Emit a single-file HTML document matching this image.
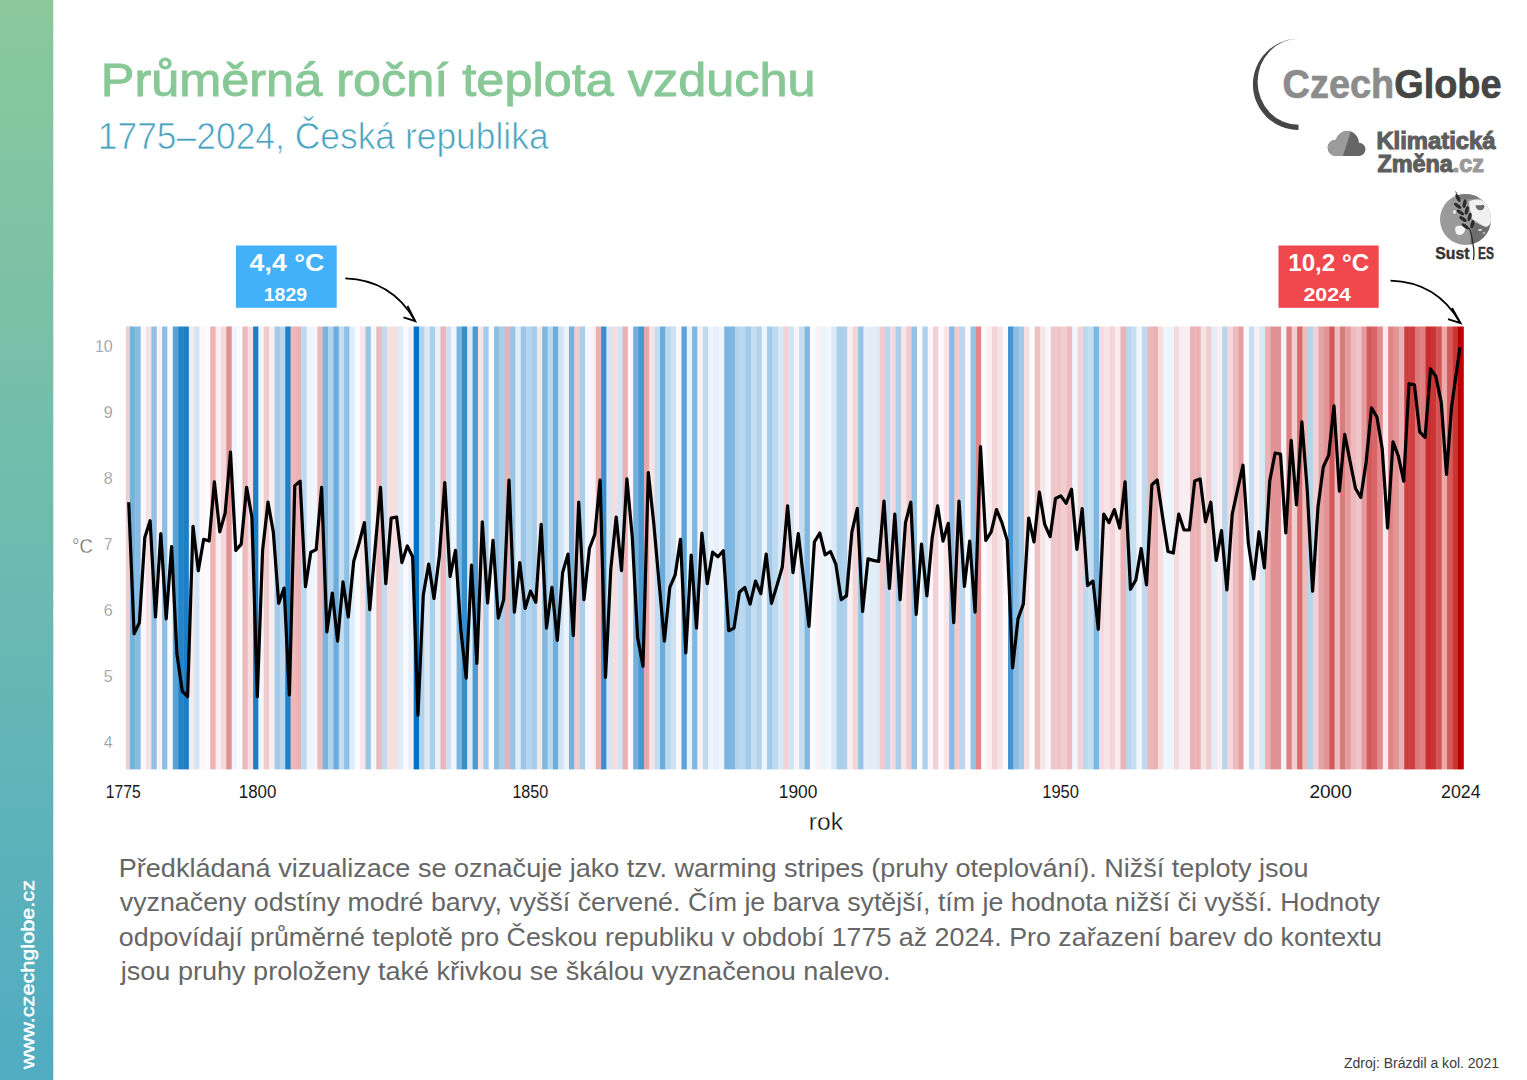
<!DOCTYPE html>
<html><head><meta charset="utf-8"><style>
html,body{margin:0;padding:0;background:#fff;}
body{width:1527px;height:1080px;overflow:hidden;position:relative;font-family:'Liberation Sans',sans-serif;}
svg{position:absolute;left:0;top:0;}
</style></head><body>
<svg width="1527" height="1080" viewBox="0 0 1527 1080" style="font-family:'Liberation Sans',sans-serif">
<defs>
<linearGradient id="bar" x1="0" y1="0" x2="0" y2="1">
<stop offset="0" stop-color="#8bc99c"/><stop offset="1" stop-color="#50acc3"/>
</linearGradient>
</defs>
<rect x="0" y="0" width="53.3" height="1080" fill="url(#bar)"/>
<text transform="translate(34.2,1069) rotate(-90)" x="0" y="0" font-size="19" fill="#ffffff" stroke="#ffffff" stroke-width="0.5" textLength="189" lengthAdjust="spacingAndGlyphs">www.czechglobe.cz</text>

<!-- CzechGlobe logo arc -->
<path d="M1298.5,38.8 A45.6,45.6 0 0 0 1298.5,130 L1298.5,124.8 A40.9,43 0 0 1 1298.5,38.8 Z" fill="#464646"/>

<!-- Klimaticka zmena cloud -->
<defs><clipPath id="cl"><circle cx="1335.8" cy="147.8" r="8.1"/><circle cx="1347.2" cy="142.8" r="11.7"/><circle cx="1358.9" cy="149.3" r="6.6"/><rect x="1335.8" y="145" width="23.1" height="10.9"/></clipPath></defs>
<g clip-path="url(#cl)"><rect x="1320" y="125" width="50" height="35" fill="#666666"/><polygon points="1320,125 1352.7,125 1341.7,160 1320,160" fill="#9b9b9b"/></g>

<!-- SustES globe -->
<defs><clipPath id="gl"><circle cx="1465.5" cy="219.4" r="25.5"/></clipPath></defs>
<g clip-path="url(#gl)">
<rect x="1438" y="192" width="56" height="56" fill="#9a9a9a"/>
<path d="M1456,194 L1480,194 L1478,199 C1470,199 1462,200 1456,199 Z" fill="#7a7a7a"/>
<path d="M1469,201.5 C1474,199 1480,198 1486,203 C1490,208 1492,215 1491,221 C1490,225 1488,227 1486,227 C1483,226 1480,224 1477,222 C1474,221 1472,220 1471,214 C1470,209 1469,205 1469,201.5 Z" fill="#f0f0f0"/>
<path d="M1475.5,205.5 C1478,204.5 1480,206 1482,205 C1484,204 1485,206 1484,208 C1483,210 1481,210.5 1479,210 C1477,209.5 1476,208 1475.5,205.5 Z" fill="#6a6a6a"/>
<path d="M1472,222 C1476,222 1481,226 1486,227 C1489,226 1491,223 1492,222 L1492,248 L1470,248 Z" fill="#6e6e6e"/>
<ellipse cx="1480" cy="230" rx="2" ry="1" fill="#dcdcdc"/>
<ellipse cx="1484" cy="233" rx="1.5" ry="0.8" fill="#dcdcdc"/>
<path d="M1455.5,227 C1458,225 1463,225.5 1465,227.5 C1466,230 1464,233 1462,234.5 C1460,235.5 1457,235 1456,233 C1455,231 1455,229 1455.5,227 Z" fill="#f4f4f4"/>
<ellipse cx="1454.5" cy="212" rx="1.4" ry="2" fill="#f0f0f0"/>
</g>
<g fill="#2b2b2b">
<ellipse cx="1458" cy="198" rx="1.8" ry="4.4" transform="rotate(-25 1458 198)"/>
<ellipse cx="1457.7" cy="205.8" rx="1.7" ry="4.3" transform="rotate(-55 1457.7 205.8)"/>
<ellipse cx="1460.4" cy="212.4" rx="1.7" ry="4.3" transform="rotate(-55 1460.4 212.4)"/>
<ellipse cx="1463" cy="219" rx="1.7" ry="4.3" transform="rotate(-55 1463 219)"/>
<ellipse cx="1465.4" cy="226.3" rx="1.7" ry="4.3" transform="rotate(-55 1465.4 226.3)"/>
<ellipse cx="1464.6" cy="203.6" rx="1.8" ry="4.4" transform="rotate(10 1464.6 203.6)"/>
<ellipse cx="1466.8" cy="210.5" rx="1.8" ry="4.3" transform="rotate(15 1466.8 210.5)"/>
<ellipse cx="1469.6" cy="216.9" rx="1.8" ry="4.3" transform="rotate(15 1469.6 216.9)"/>
<ellipse cx="1472.4" cy="224.1" rx="1.8" ry="4.3" transform="rotate(15 1472.4 224.1)"/>
</g>
<path d="M1457,194 L1455.5,191.5" stroke="#2b2b2b" stroke-width="0.8"/>
<path d="M1469.3,228 C1471,232 1472.5,240 1473.6,248 C1474.2,252 1474,256 1473.4,260" stroke="#2b2b2b" stroke-width="1.3" fill="none"/>

<!-- annotation boxes -->
<rect x="235.9" y="245.5" width="100.8" height="62.3" fill="#43b0fa"/>
<path d="M345.3,278.4 Q392,280 414.8,320.6" stroke="#000" stroke-width="1.8" fill="none"/>
<path d="M407.5,306 L415.3,321.2 L403.5,317.3" stroke="#000" stroke-width="1.8" fill="none"/>
<rect x="1278.5" y="245.5" width="100.2" height="62.3" fill="#f0484c"/>
<path d="M1390.5,280.6 Q1437,282 1460,322.6" stroke="#000" stroke-width="1.8" fill="none"/>
<path d="M1452,308 L1460.6,323.2 L1448,319.2" stroke="#000" stroke-width="1.8" fill="none"/>

<!-- stripes -->
<g>
<rect x="125.80" y="326.5" width="4.50" height="442.9" fill="#f0ccce"/><rect x="129.95" y="326.5" width="5.70" height="442.9" fill="#77b2de"/><rect x="135.31" y="326.5" width="5.70" height="442.9" fill="#87bbe2"/><rect x="140.66" y="326.5" width="5.70" height="442.9" fill="#fbf6f9"/><rect x="146.02" y="326.5" width="5.70" height="442.9" fill="#f6e2e5"/><rect x="151.37" y="326.5" width="5.70" height="442.9" fill="#8fc0e4"/><rect x="156.72" y="326.5" width="5.70" height="442.9" fill="#faf2f4"/><rect x="162.08" y="326.5" width="5.70" height="442.9" fill="#8cbee3"/><rect x="167.43" y="326.5" width="5.70" height="442.9" fill="#f6f9fd"/><rect x="172.79" y="326.5" width="5.70" height="442.9" fill="#59a2d6"/><rect x="178.14" y="326.5" width="5.70" height="442.9" fill="#2384c9"/><rect x="183.49" y="326.5" width="5.70" height="442.9" fill="#1b7fc7"/><rect x="188.85" y="326.5" width="5.70" height="442.9" fill="#f7e9eb"/><rect x="194.20" y="326.5" width="5.70" height="442.9" fill="#d3e5f5"/><rect x="199.56" y="326.5" width="5.70" height="442.9" fill="#fbf8fb"/><rect x="204.91" y="326.5" width="5.70" height="442.9" fill="#fcfafd"/><rect x="210.26" y="326.5" width="5.70" height="442.9" fill="#ebb3b5"/><rect x="215.62" y="326.5" width="5.70" height="442.9" fill="#f9eff2"/><rect x="220.97" y="326.5" width="5.70" height="442.9" fill="#f4d9dc"/><rect x="226.33" y="326.5" width="5.70" height="442.9" fill="#e29091"/><rect x="231.68" y="326.5" width="5.70" height="442.9" fill="#f0f6fc"/><rect x="237.03" y="326.5" width="5.70" height="442.9" fill="#fafbfe"/><rect x="242.39" y="326.5" width="5.70" height="442.9" fill="#ecbabc"/><rect x="247.74" y="326.5" width="5.70" height="442.9" fill="#f5dde0"/><rect x="253.10" y="326.5" width="5.70" height="442.9" fill="#1b7fc7"/><rect x="258.45" y="326.5" width="5.70" height="442.9" fill="#f0f6fc"/><rect x="263.80" y="326.5" width="5.70" height="442.9" fill="#f0ccce"/><rect x="269.16" y="326.5" width="5.70" height="442.9" fill="#f9eff2"/><rect x="274.51" y="326.5" width="5.70" height="442.9" fill="#a3cbe9"/><rect x="279.87" y="326.5" width="5.70" height="442.9" fill="#b9d7ee"/><rect x="285.22" y="326.5" width="5.70" height="442.9" fill="#1e81c7"/><rect x="290.57" y="326.5" width="5.70" height="442.9" fill="#ecb8ba"/><rect x="295.93" y="326.5" width="5.70" height="442.9" fill="#eab2b4"/><rect x="301.28" y="326.5" width="5.70" height="442.9" fill="#bbd8ef"/><rect x="306.64" y="326.5" width="5.70" height="442.9" fill="#eef4fb"/><rect x="311.99" y="326.5" width="5.70" height="442.9" fill="#f1f6fc"/><rect x="317.34" y="326.5" width="5.70" height="442.9" fill="#ecbabc"/><rect x="322.70" y="326.5" width="5.70" height="442.9" fill="#7ab4de"/><rect x="328.05" y="326.5" width="5.70" height="442.9" fill="#b2d3ed"/><rect x="333.41" y="326.5" width="5.70" height="442.9" fill="#6cacdb"/><rect x="338.76" y="326.5" width="5.70" height="442.9" fill="#c2dcf1"/><rect x="344.11" y="326.5" width="5.70" height="442.9" fill="#8fc0e4"/><rect x="349.47" y="326.5" width="5.70" height="442.9" fill="#e0edf8"/><rect x="354.82" y="326.5" width="5.70" height="442.9" fill="#fbfcff"/><rect x="360.18" y="326.5" width="5.70" height="442.9" fill="#f6e4e7"/><rect x="365.53" y="326.5" width="5.70" height="442.9" fill="#9ac6e6"/><rect x="370.88" y="326.5" width="5.70" height="442.9" fill="#f3f7fd"/><rect x="376.24" y="326.5" width="5.70" height="442.9" fill="#ecbabc"/><rect x="381.59" y="326.5" width="5.70" height="442.9" fill="#c0dbf0"/><rect x="386.95" y="326.5" width="5.70" height="442.9" fill="#f5dfe1"/><rect x="392.30" y="326.5" width="5.70" height="442.9" fill="#f5dde0"/><rect x="397.65" y="326.5" width="5.70" height="442.9" fill="#dfecf8"/><rect x="403.01" y="326.5" width="5.70" height="442.9" fill="#f7f9fe"/><rect x="408.36" y="326.5" width="5.70" height="442.9" fill="#e7f0fa"/><rect x="413.72" y="326.5" width="5.70" height="442.9" fill="#0070c0"/><rect x="419.07" y="326.5" width="5.70" height="442.9" fill="#b0d2ec"/><rect x="424.42" y="326.5" width="5.70" height="442.9" fill="#dceaf7"/><rect x="429.78" y="326.5" width="5.70" height="442.9" fill="#aacfeb"/><rect x="435.13" y="326.5" width="5.70" height="442.9" fill="#e8f1fa"/><rect x="440.49" y="326.5" width="5.70" height="442.9" fill="#ebb4b6"/><rect x="445.84" y="326.5" width="5.70" height="442.9" fill="#cbe1f3"/><rect x="451.19" y="326.5" width="5.70" height="442.9" fill="#f0f6fc"/><rect x="456.55" y="326.5" width="5.70" height="442.9" fill="#7cb5df"/><rect x="461.90" y="326.5" width="5.70" height="442.9" fill="#368ece"/><rect x="467.26" y="326.5" width="5.70" height="442.9" fill="#dbeaf7"/><rect x="472.61" y="326.5" width="5.70" height="442.9" fill="#4c9ad3"/><rect x="477.96" y="326.5" width="5.70" height="442.9" fill="#f6e3e6"/><rect x="483.32" y="326.5" width="5.70" height="442.9" fill="#a4cbe9"/><rect x="488.67" y="326.5" width="5.70" height="442.9" fill="#fbfafd"/><rect x="494.03" y="326.5" width="5.70" height="442.9" fill="#8ebfe3"/><rect x="499.38" y="326.5" width="5.70" height="442.9" fill="#a9ceea"/><rect x="504.73" y="326.5" width="5.70" height="442.9" fill="#eab1b3"/><rect x="510.09" y="326.5" width="5.70" height="442.9" fill="#96c3e6"/><rect x="515.44" y="326.5" width="5.70" height="442.9" fill="#dfecf8"/><rect x="520.80" y="326.5" width="5.70" height="442.9" fill="#9cc6e7"/><rect x="526.15" y="326.5" width="5.70" height="442.9" fill="#b5d5ed"/><rect x="531.50" y="326.5" width="5.70" height="442.9" fill="#a5cce9"/><rect x="536.86" y="326.5" width="5.70" height="442.9" fill="#f7e6e9"/><rect x="542.21" y="326.5" width="5.70" height="442.9" fill="#7fb7e0"/><rect x="547.57" y="326.5" width="5.70" height="442.9" fill="#bad8ef"/><rect x="552.92" y="326.5" width="5.70" height="442.9" fill="#6daddb"/><rect x="558.27" y="326.5" width="5.70" height="442.9" fill="#d0e4f4"/><rect x="563.63" y="326.5" width="5.70" height="442.9" fill="#ebf3fb"/><rect x="568.98" y="326.5" width="5.70" height="442.9" fill="#74b1dd"/><rect x="574.34" y="326.5" width="5.70" height="442.9" fill="#f0ccce"/><rect x="579.69" y="326.5" width="5.70" height="442.9" fill="#a9ceea"/><rect x="585.04" y="326.5" width="5.70" height="442.9" fill="#f3f7fd"/><rect x="590.40" y="326.5" width="5.70" height="442.9" fill="#faf2f5"/><rect x="595.75" y="326.5" width="5.70" height="442.9" fill="#eab1b3"/><rect x="601.11" y="326.5" width="5.70" height="442.9" fill="#378fce"/><rect x="606.46" y="326.5" width="5.70" height="442.9" fill="#d5e7f5"/><rect x="611.81" y="326.5" width="5.70" height="442.9" fill="#f5dde0"/><rect x="617.17" y="326.5" width="5.70" height="442.9" fill="#d3e5f5"/><rect x="622.52" y="326.5" width="5.70" height="442.9" fill="#eab0b2"/><rect x="627.88" y="326.5" width="5.70" height="442.9" fill="#fbf6f9"/><rect x="633.23" y="326.5" width="5.70" height="442.9" fill="#71afdc"/><rect x="638.58" y="326.5" width="5.70" height="442.9" fill="#4798d2"/><rect x="643.94" y="326.5" width="5.70" height="442.9" fill="#e8a8aa"/><rect x="649.29" y="326.5" width="5.70" height="442.9" fill="#f6e4e7"/><rect x="654.65" y="326.5" width="5.70" height="442.9" fill="#c2dcf1"/><rect x="660.00" y="326.5" width="5.70" height="442.9" fill="#6cacdb"/><rect x="665.35" y="326.5" width="5.70" height="442.9" fill="#bad8ef"/><rect x="670.71" y="326.5" width="5.70" height="442.9" fill="#cce1f3"/><rect x="676.06" y="326.5" width="5.70" height="442.9" fill="#fbf8fb"/><rect x="681.42" y="326.5" width="5.70" height="442.9" fill="#5ba2d7"/><rect x="686.77" y="326.5" width="5.70" height="442.9" fill="#e9f2fa"/><rect x="692.12" y="326.5" width="5.70" height="442.9" fill="#7fb7e0"/><rect x="697.48" y="326.5" width="5.70" height="442.9" fill="#f9f1f4"/><rect x="702.83" y="326.5" width="5.70" height="442.9" fill="#c0dbf0"/><rect x="708.19" y="326.5" width="5.70" height="442.9" fill="#eef4fb"/><rect x="713.54" y="326.5" width="5.70" height="442.9" fill="#e7f0fa"/><rect x="718.89" y="326.5" width="5.70" height="442.9" fill="#f0f5fc"/><rect x="724.25" y="326.5" width="5.70" height="442.9" fill="#7bb4df"/><rect x="729.60" y="326.5" width="5.70" height="442.9" fill="#7fb7e0"/><rect x="734.96" y="326.5" width="5.70" height="442.9" fill="#b3d4ed"/><rect x="740.31" y="326.5" width="5.70" height="442.9" fill="#bad8ef"/><rect x="745.66" y="326.5" width="5.70" height="442.9" fill="#a2cae9"/><rect x="751.02" y="326.5" width="5.70" height="442.9" fill="#c4ddf1"/><rect x="756.37" y="326.5" width="5.70" height="442.9" fill="#b1d2ec"/><rect x="761.73" y="326.5" width="5.70" height="442.9" fill="#ebf3fb"/><rect x="767.08" y="326.5" width="5.70" height="442.9" fill="#a3cbe9"/><rect x="772.43" y="326.5" width="5.70" height="442.9" fill="#bdd9ef"/><rect x="777.79" y="326.5" width="5.70" height="442.9" fill="#d8e8f6"/><rect x="783.14" y="326.5" width="5.70" height="442.9" fill="#f2d0d3"/><rect x="788.50" y="326.5" width="5.70" height="442.9" fill="#d0e4f4"/><rect x="793.85" y="326.5" width="5.70" height="442.9" fill="#faf2f4"/><rect x="799.20" y="326.5" width="5.70" height="442.9" fill="#c5def1"/><rect x="804.56" y="326.5" width="5.70" height="442.9" fill="#82b8e0"/><rect x="809.91" y="326.5" width="5.70" height="442.9" fill="#fcfbfe"/><rect x="815.27" y="326.5" width="5.70" height="442.9" fill="#f9f1f4"/><rect x="820.62" y="326.5" width="5.70" height="442.9" fill="#eaf2fa"/><rect x="825.97" y="326.5" width="5.70" height="442.9" fill="#eff5fc"/><rect x="831.33" y="326.5" width="5.70" height="442.9" fill="#dceaf7"/><rect x="836.68" y="326.5" width="5.70" height="442.9" fill="#a9ceea"/><rect x="842.04" y="326.5" width="5.70" height="442.9" fill="#aed1eb"/><rect x="847.39" y="326.5" width="5.70" height="442.9" fill="#f9eff2"/><rect x="852.74" y="326.5" width="5.70" height="442.9" fill="#f2d3d6"/><rect x="858.10" y="326.5" width="5.70" height="442.9" fill="#97c4e6"/><rect x="863.45" y="326.5" width="5.70" height="442.9" fill="#e4eff9"/><rect x="868.81" y="326.5" width="5.70" height="442.9" fill="#e2edf8"/><rect x="874.16" y="326.5" width="5.70" height="442.9" fill="#e0edf8"/><rect x="879.51" y="326.5" width="5.70" height="442.9" fill="#f0cacd"/><rect x="884.87" y="326.5" width="5.70" height="442.9" fill="#b9d7ee"/><rect x="890.22" y="326.5" width="5.70" height="442.9" fill="#f4dadd"/><rect x="895.58" y="326.5" width="5.70" height="442.9" fill="#a9ceea"/><rect x="900.93" y="326.5" width="5.70" height="442.9" fill="#f6e4e7"/><rect x="906.28" y="326.5" width="5.70" height="442.9" fill="#f0ccce"/><rect x="911.64" y="326.5" width="5.70" height="442.9" fill="#93c2e5"/><rect x="916.99" y="326.5" width="5.70" height="442.9" fill="#fafbfe"/><rect x="922.35" y="326.5" width="5.70" height="442.9" fill="#aed1eb"/><rect x="927.70" y="326.5" width="5.70" height="442.9" fill="#fbf6f9"/><rect x="933.05" y="326.5" width="5.70" height="442.9" fill="#f2d0d3"/><rect x="938.41" y="326.5" width="5.70" height="442.9" fill="#fcfafd"/><rect x="943.76" y="326.5" width="5.70" height="442.9" fill="#f7e5e8"/><rect x="949.12" y="326.5" width="5.70" height="442.9" fill="#87bbe2"/><rect x="954.47" y="326.5" width="5.70" height="442.9" fill="#f0cacd"/><rect x="959.82" y="326.5" width="5.70" height="442.9" fill="#bcd8ef"/><rect x="965.18" y="326.5" width="5.70" height="442.9" fill="#fcfafd"/><rect x="970.53" y="326.5" width="5.70" height="442.9" fill="#96c3e6"/><rect x="975.89" y="326.5" width="5.70" height="442.9" fill="#e1898a"/><rect x="981.24" y="326.5" width="5.70" height="442.9" fill="#fbfafd"/><rect x="986.59" y="326.5" width="5.70" height="442.9" fill="#f9eff2"/><rect x="991.95" y="326.5" width="5.70" height="442.9" fill="#f3d5d7"/><rect x="997.30" y="326.5" width="5.70" height="442.9" fill="#f6e4e7"/><rect x="1002.66" y="326.5" width="5.70" height="442.9" fill="#fbfafd"/><rect x="1008.01" y="326.5" width="5.70" height="442.9" fill="#4596d1"/><rect x="1013.36" y="326.5" width="5.70" height="442.9" fill="#8cbee3"/><rect x="1018.72" y="326.5" width="5.70" height="442.9" fill="#a2cae9"/><rect x="1024.07" y="326.5" width="5.70" height="442.9" fill="#f5dfe1"/><rect x="1029.43" y="326.5" width="5.70" height="442.9" fill="#fcfbfe"/><rect x="1034.78" y="326.5" width="5.70" height="442.9" fill="#eec0c2"/><rect x="1040.13" y="326.5" width="5.70" height="442.9" fill="#f7e6e9"/><rect x="1045.49" y="326.5" width="5.70" height="442.9" fill="#faf5f8"/><rect x="1050.84" y="326.5" width="5.70" height="442.9" fill="#efc7ca"/><rect x="1056.20" y="326.5" width="5.70" height="442.9" fill="#efc4c6"/><rect x="1061.55" y="326.5" width="5.70" height="442.9" fill="#f1cdcf"/><rect x="1066.90" y="326.5" width="5.70" height="442.9" fill="#edbcbe"/><rect x="1072.26" y="326.5" width="5.70" height="442.9" fill="#f2f6fd"/><rect x="1077.61" y="326.5" width="5.70" height="442.9" fill="#f2d3d6"/><rect x="1082.97" y="326.5" width="5.70" height="442.9" fill="#bdd9ef"/><rect x="1088.32" y="326.5" width="5.70" height="442.9" fill="#c4ddf1"/><rect x="1093.67" y="326.5" width="5.70" height="442.9" fill="#7db6df"/><rect x="1099.03" y="326.5" width="5.70" height="442.9" fill="#f4dadd"/><rect x="1104.38" y="326.5" width="5.70" height="442.9" fill="#f6e4e7"/><rect x="1109.74" y="326.5" width="5.70" height="442.9" fill="#f3d5d7"/><rect x="1115.09" y="326.5" width="5.70" height="442.9" fill="#f8ebee"/><rect x="1120.44" y="326.5" width="5.70" height="442.9" fill="#ebb3b5"/><rect x="1125.80" y="326.5" width="5.70" height="442.9" fill="#b8d6ee"/><rect x="1131.15" y="326.5" width="5.70" height="442.9" fill="#c5def1"/><rect x="1136.51" y="326.5" width="5.70" height="442.9" fill="#f3f7fd"/><rect x="1141.86" y="326.5" width="5.70" height="442.9" fill="#bedaf0"/><rect x="1147.21" y="326.5" width="5.70" height="442.9" fill="#ecb7b9"/><rect x="1152.57" y="326.5" width="5.70" height="442.9" fill="#eab1b3"/><rect x="1157.92" y="326.5" width="5.70" height="442.9" fill="#f5dde0"/><rect x="1163.28" y="326.5" width="5.70" height="442.9" fill="#eff5fc"/><rect x="1168.63" y="326.5" width="5.70" height="442.9" fill="#edf3fb"/><rect x="1173.98" y="326.5" width="5.70" height="442.9" fill="#f4dadd"/><rect x="1179.34" y="326.5" width="5.70" height="442.9" fill="#f8edf0"/><rect x="1184.69" y="326.5" width="5.70" height="442.9" fill="#f8edf0"/><rect x="1190.05" y="326.5" width="5.70" height="442.9" fill="#eab2b4"/><rect x="1195.40" y="326.5" width="5.70" height="442.9" fill="#eab0b2"/><rect x="1200.75" y="326.5" width="5.70" height="442.9" fill="#f6e3e6"/><rect x="1206.11" y="326.5" width="5.70" height="442.9" fill="#f0ccce"/><rect x="1211.46" y="326.5" width="5.70" height="442.9" fill="#e2edf8"/><rect x="1216.82" y="326.5" width="5.70" height="442.9" fill="#f9eef1"/><rect x="1222.17" y="326.5" width="5.70" height="442.9" fill="#b7d5ee"/><rect x="1227.52" y="326.5" width="5.70" height="442.9" fill="#f4dadd"/><rect x="1232.88" y="326.5" width="5.70" height="442.9" fill="#edbcbe"/><rect x="1238.23" y="326.5" width="5.70" height="442.9" fill="#e69fa1"/><rect x="1243.59" y="326.5" width="5.70" height="442.9" fill="#fbfcff"/><rect x="1248.94" y="326.5" width="5.70" height="442.9" fill="#c7def2"/><rect x="1254.29" y="326.5" width="5.70" height="442.9" fill="#f9eff2"/><rect x="1259.65" y="326.5" width="5.70" height="442.9" fill="#d7e7f6"/><rect x="1265.00" y="326.5" width="5.70" height="442.9" fill="#eab2b4"/><rect x="1270.36" y="326.5" width="5.70" height="442.9" fill="#e29092"/><rect x="1275.71" y="326.5" width="5.70" height="442.9" fill="#e39293"/><rect x="1281.06" y="326.5" width="5.70" height="442.9" fill="#f9f1f4"/><rect x="1286.42" y="326.5" width="5.70" height="442.9" fill="#df8183"/><rect x="1291.77" y="326.5" width="5.70" height="442.9" fill="#f1cfd1"/><rect x="1297.13" y="326.5" width="5.70" height="442.9" fill="#d96b6c"/><rect x="1302.48" y="326.5" width="5.70" height="442.9" fill="#edbcbe"/><rect x="1307.83" y="326.5" width="5.70" height="442.9" fill="#b5d5ed"/><rect x="1313.19" y="326.5" width="5.70" height="442.9" fill="#f2d1d4"/><rect x="1318.54" y="326.5" width="5.70" height="442.9" fill="#e6a1a3"/><rect x="1323.90" y="326.5" width="5.70" height="442.9" fill="#e39395"/><rect x="1329.25" y="326.5" width="5.70" height="442.9" fill="#d55859"/><rect x="1334.60" y="326.5" width="5.70" height="442.9" fill="#edbec1"/><rect x="1339.96" y="326.5" width="5.70" height="442.9" fill="#dd7a7c"/><rect x="1345.31" y="326.5" width="5.70" height="442.9" fill="#e59b9d"/><rect x="1350.67" y="326.5" width="5.70" height="442.9" fill="#edbbbd"/><rect x="1356.02" y="326.5" width="5.70" height="442.9" fill="#efc6c8"/><rect x="1361.37" y="326.5" width="5.70" height="442.9" fill="#e59b9d"/><rect x="1366.73" y="326.5" width="5.70" height="442.9" fill="#d55a5b"/><rect x="1372.08" y="326.5" width="5.70" height="442.9" fill="#d86566"/><rect x="1377.44" y="326.5" width="5.70" height="442.9" fill="#e18b8d"/><rect x="1382.79" y="326.5" width="5.70" height="442.9" fill="#f8ebee"/><rect x="1388.14" y="326.5" width="5.70" height="442.9" fill="#df8385"/><rect x="1393.50" y="326.5" width="5.70" height="442.9" fill="#e39496"/><rect x="1398.85" y="326.5" width="5.70" height="442.9" fill="#eab2b4"/><rect x="1404.21" y="326.5" width="5.70" height="442.9" fill="#cf3d3e"/><rect x="1409.56" y="326.5" width="5.70" height="442.9" fill="#cf3e3f"/><rect x="1414.91" y="326.5" width="5.70" height="442.9" fill="#dc7778"/><rect x="1420.27" y="326.5" width="5.70" height="442.9" fill="#de7e7f"/><rect x="1425.62" y="326.5" width="5.70" height="442.9" fill="#ca2b2c"/><rect x="1430.98" y="326.5" width="5.70" height="442.9" fill="#cc3435"/><rect x="1436.33" y="326.5" width="5.70" height="442.9" fill="#d45354"/><rect x="1441.68" y="326.5" width="5.70" height="442.9" fill="#e9aaac"/><rect x="1447.04" y="326.5" width="5.70" height="442.9" fill="#d5595a"/><rect x="1452.39" y="326.5" width="5.70" height="442.9" fill="#cd3535"/><rect x="1457.75" y="326.5" width="6.05" height="442.9" fill="#c00000"/>
</g>
<polyline points="128.7,502.2 134.1,633.7 139.4,622.6 144.8,537.4 150.1,520.7 155.5,617.0 160.8,533.7 166.2,618.9 171.6,546.7 176.9,654.1 182.3,691.1 187.6,696.7 193.0,526.3 198.3,570.7 203.7,539.3 209.1,541.1 214.4,481.9 219.8,531.9 225.1,513.3 230.5,452.2 235.8,550.4 241.2,544.1 246.6,487.4 251.9,517.0 257.3,696.7 262.6,550.4 268.0,502.2 273.3,531.9 278.7,603.3 284.1,588.1 289.4,694.8 294.8,485.6 300.1,481.1 305.5,586.7 310.8,552.2 316.2,549.6 321.6,487.4 326.9,631.9 332.3,593.0 337.6,641.1 343.0,581.9 348.3,617.0 353.7,561.5 359.1,543.0 364.4,522.6 369.8,609.6 375.1,548.5 380.5,487.4 385.8,583.7 391.2,518.1 396.6,517.0 401.9,562.6 407.3,545.9 412.6,556.7 418.0,715.2 423.3,594.8 428.7,564.1 434.0,598.5 439.4,555.9 444.8,482.6 450.1,576.3 455.5,550.4 460.8,630.0 466.2,678.1 471.5,565.2 476.9,663.3 482.3,521.9 487.6,603.0 493.0,540.4 498.3,618.1 503.7,599.6 509.0,480.0 514.4,612.2 519.8,562.6 525.1,608.5 530.5,591.1 535.8,602.2 541.2,524.4 546.5,628.1 551.9,587.4 557.3,640.4 562.6,572.6 568.0,554.1 573.3,635.6 578.7,502.2 584.0,599.6 589.4,548.5 594.8,534.4 600.1,480.0 605.5,677.4 610.8,568.9 616.2,517.0 621.5,570.7 626.9,478.9 632.3,537.4 637.6,637.4 643.0,666.3 648.3,472.6 653.7,522.6 659.0,581.9 664.4,641.1 669.8,587.4 675.1,575.2 680.5,539.3 685.8,653.0 691.2,555.2 696.5,628.1 701.9,533.0 707.3,583.7 712.6,552.2 718.0,556.7 723.3,550.7 728.7,630.7 734.0,628.1 739.4,592.2 744.8,587.4 750.1,604.1 755.5,581.1 760.8,593.7 766.2,554.1 771.5,603.3 776.9,585.6 782.3,567.0 787.6,505.9 793.0,572.6 798.3,533.7 803.7,580.0 809.0,626.3 814.4,541.9 819.8,533.0 825.1,554.8 830.5,551.5 835.8,564.1 841.2,599.6 846.5,595.9 851.9,531.9 857.3,508.5 862.6,611.5 868.0,558.9 873.3,560.4 878.7,561.5 884.0,501.1 889.4,588.5 894.8,514.1 900.1,599.6 905.5,522.6 910.8,502.2 916.2,614.4 921.5,544.1 926.9,595.9 932.2,537.4 937.6,505.9 943.0,541.1 948.3,523.3 953.7,622.6 959.0,501.1 964.4,586.3 969.7,541.1 975.1,612.2 980.5,446.7 985.8,540.4 991.2,531.9 996.5,509.6 1001.9,522.6 1007.2,540.4 1012.6,667.8 1018.0,618.9 1023.3,604.1 1028.7,518.1 1034.0,541.9 1039.4,492.2 1044.7,524.4 1050.1,536.7 1055.5,498.5 1060.8,495.9 1066.2,503.3 1071.5,489.3 1076.9,549.3 1082.2,508.5 1087.6,585.6 1093.0,581.1 1098.3,629.3 1103.7,514.1 1109.0,522.6 1114.4,509.6 1119.7,528.1 1125.1,481.9 1130.5,589.3 1135.8,580.0 1141.2,548.5 1146.5,584.8 1151.9,484.8 1157.2,480.0 1162.6,517.0 1168.0,551.5 1173.3,553.0 1178.7,514.1 1184.0,530.0 1189.4,530.0 1194.7,481.1 1200.1,478.9 1205.5,521.9 1210.8,502.2 1216.2,560.4 1221.5,530.7 1226.9,590.0 1232.2,514.4 1237.6,489.3 1243.0,465.2 1248.3,543.0 1253.7,578.9 1259.0,531.9 1264.4,567.8 1269.7,481.1 1275.1,453.0 1280.5,454.1 1285.8,533.0 1291.2,440.4 1296.5,504.8 1301.9,421.9 1307.2,489.3 1312.6,591.1 1318.0,507.0 1323.3,467.0 1328.7,455.2 1334.0,405.9 1339.4,491.1 1344.7,434.4 1350.1,461.5 1355.5,488.5 1360.8,497.4 1366.2,461.5 1371.5,407.8 1376.9,417.0 1382.2,448.5 1387.6,528.1 1393.0,441.9 1398.3,455.9 1403.7,481.1 1409.0,383.7 1414.4,384.8 1419.7,431.9 1425.1,437.4 1430.5,368.9 1435.8,376.3 1441.2,402.2 1446.5,474.4 1451.6,406.5 1455.8,376.7 1460.0,347.3" fill="none" stroke="#000" stroke-width="3.2" stroke-linejoin="round"/>

<text x="100.80" y="96.3" font-size="46" fill="#87c896" stroke="#87c896" stroke-width="0.9" textLength="714.80" lengthAdjust="spacingAndGlyphs">Průměrná roční teplota vzduchu</text>
<text x="97.80" y="148.7" font-size="36" fill="#4aa3bf" stroke="#ffffff" stroke-width="0.7" textLength="450.80" lengthAdjust="spacingAndGlyphs">1775–2024, Česká republika</text>
<text x="1282.60" y="98" font-size="40" fill="#454545" font-weight="bold" textLength="219.00" lengthAdjust="spacingAndGlyphs"><tspan fill="#8c8c8c" stroke="#8c8c8c" stroke-width="0.7">Czech</tspan><tspan fill="#454545" stroke="#454545" stroke-width="0.7">Globe</tspan></text>
<text x="1376.40" y="149.2" font-size="23" fill="#5e5e5e" font-weight="bold" stroke="#5e5e5e" stroke-width="1.1" textLength="119.20" lengthAdjust="spacingAndGlyphs">Klimatická</text>
<text x="1377.40" y="171.6" font-size="23" fill="#5e5e5e" font-weight="bold" textLength="106.60" lengthAdjust="spacingAndGlyphs"><tspan fill="#5e5e5e" stroke="#5e5e5e" stroke-width="1.1">Změna</tspan><tspan fill="#9a9a9a" stroke="#9a9a9a" stroke-width="1.1">.cz</tspan></text>
<text x="1435.30" y="259" font-size="17" fill="#333333" font-weight="bold" stroke="#333333" stroke-width="0.4" textLength="34.20" lengthAdjust="spacingAndGlyphs">Sust</text>
<text x="1478.00" y="259" font-size="17" fill="#333333" font-weight="bold" stroke="#333333" stroke-width="0.4" textLength="16.00" lengthAdjust="spacingAndGlyphs">ES</text>
<text x="249.60" y="270.8" font-size="24.5" fill="#ffffff" font-weight="bold" textLength="74.60" lengthAdjust="spacingAndGlyphs">4,4 °C</text>
<text x="263.80" y="300.5" font-size="19" fill="#ffffff" font-weight="bold" textLength="43.20" lengthAdjust="spacingAndGlyphs">1829</text>
<text x="1288.20" y="270.8" font-size="24.5" fill="#ffffff" font-weight="bold" textLength="81.00" lengthAdjust="spacingAndGlyphs">10,2 °C</text>
<text x="1303.40" y="300.5" font-size="19" fill="#ffffff" font-weight="bold" textLength="47.60" lengthAdjust="spacingAndGlyphs">2024</text>
<text x="72.00" y="552.6" font-size="21" fill="#707070" stroke="#ffffff" stroke-width="0.3" textLength="20.80" lengthAdjust="spacingAndGlyphs">°C</text>
<text x="808.80" y="829.7" font-size="23" fill="#111111" stroke="#ffffff" stroke-width="0.3" textLength="34.20" lengthAdjust="spacingAndGlyphs">rok</text>
<text x="118.80" y="876.5" font-size="25" fill="#666666" textLength="1189.80" lengthAdjust="spacingAndGlyphs">Předkládaná vizualizace se označuje jako tzv. warming stripes (pruhy oteplování). Nižší teploty jsou</text>
<text x="119.80" y="911.1" font-size="25" fill="#666666" textLength="1260.20" lengthAdjust="spacingAndGlyphs">vyznačeny odstíny modré barvy, vyšší červené. Čím je barva sytější, tím je hodnota nižší či vyšší. Hodnoty</text>
<text x="118.80" y="945.7" font-size="25" fill="#666666" textLength="1263.20" lengthAdjust="spacingAndGlyphs">odpovídají průměrné teplotě pro Českou republiku v období 1775 až 2024. Pro zařazení barev do kontextu</text>
<text x="120.80" y="980.3" font-size="25" fill="#666666" textLength="769.80" lengthAdjust="spacingAndGlyphs">jsou pruhy proloženy také křivkou se škálou vyznačenou nalevo.</text>
<text x="1344.00" y="1067.7" font-size="14" fill="#3c3c3c" textLength="155.00" lengthAdjust="spacingAndGlyphs">Zdroj: Brázdil a kol. 2021</text>
<text x="105.80" y="797.6" font-size="18" fill="#1a1a1a" textLength="34.80" lengthAdjust="spacingAndGlyphs">1775</text>
<text x="238.80" y="797.6" font-size="18" fill="#1a1a1a" textLength="37.60" lengthAdjust="spacingAndGlyphs">1800</text>
<text x="512.40" y="797.6" font-size="18" fill="#1a1a1a" textLength="35.80" lengthAdjust="spacingAndGlyphs">1850</text>
<text x="778.80" y="797.6" font-size="18" fill="#1a1a1a" textLength="38.60" lengthAdjust="spacingAndGlyphs">1900</text>
<text x="1042.20" y="797.6" font-size="18" fill="#1a1a1a" textLength="36.80" lengthAdjust="spacingAndGlyphs">1950</text>
<text x="1309.40" y="797.6" font-size="18" fill="#1a1a1a" textLength="42.40" lengthAdjust="spacingAndGlyphs">2000</text>
<text x="1441.00" y="797.6" font-size="18" fill="#1a1a1a" textLength="39.60" lengthAdjust="spacingAndGlyphs">2024</text>
<text x="112.70" y="351.8" font-size="16" fill="#808080" stroke="#ffffff" stroke-width="0.35" text-anchor="end">10</text>
<text x="112.70" y="417.9" font-size="16" fill="#808080" stroke="#ffffff" stroke-width="0.35" text-anchor="end">9</text>
<text x="112.70" y="484.0" font-size="16" fill="#808080" stroke="#ffffff" stroke-width="0.35" text-anchor="end">8</text>
<text x="112.70" y="550.1" font-size="16" fill="#808080" stroke="#ffffff" stroke-width="0.35" text-anchor="end">7</text>
<text x="112.70" y="616.2" font-size="16" fill="#808080" stroke="#ffffff" stroke-width="0.35" text-anchor="end">6</text>
<text x="112.70" y="682.3" font-size="16" fill="#808080" stroke="#ffffff" stroke-width="0.35" text-anchor="end">5</text>
<text x="112.70" y="748.4" font-size="16" fill="#808080" stroke="#ffffff" stroke-width="0.35" text-anchor="end">4</text>
</svg>
</body></html>
